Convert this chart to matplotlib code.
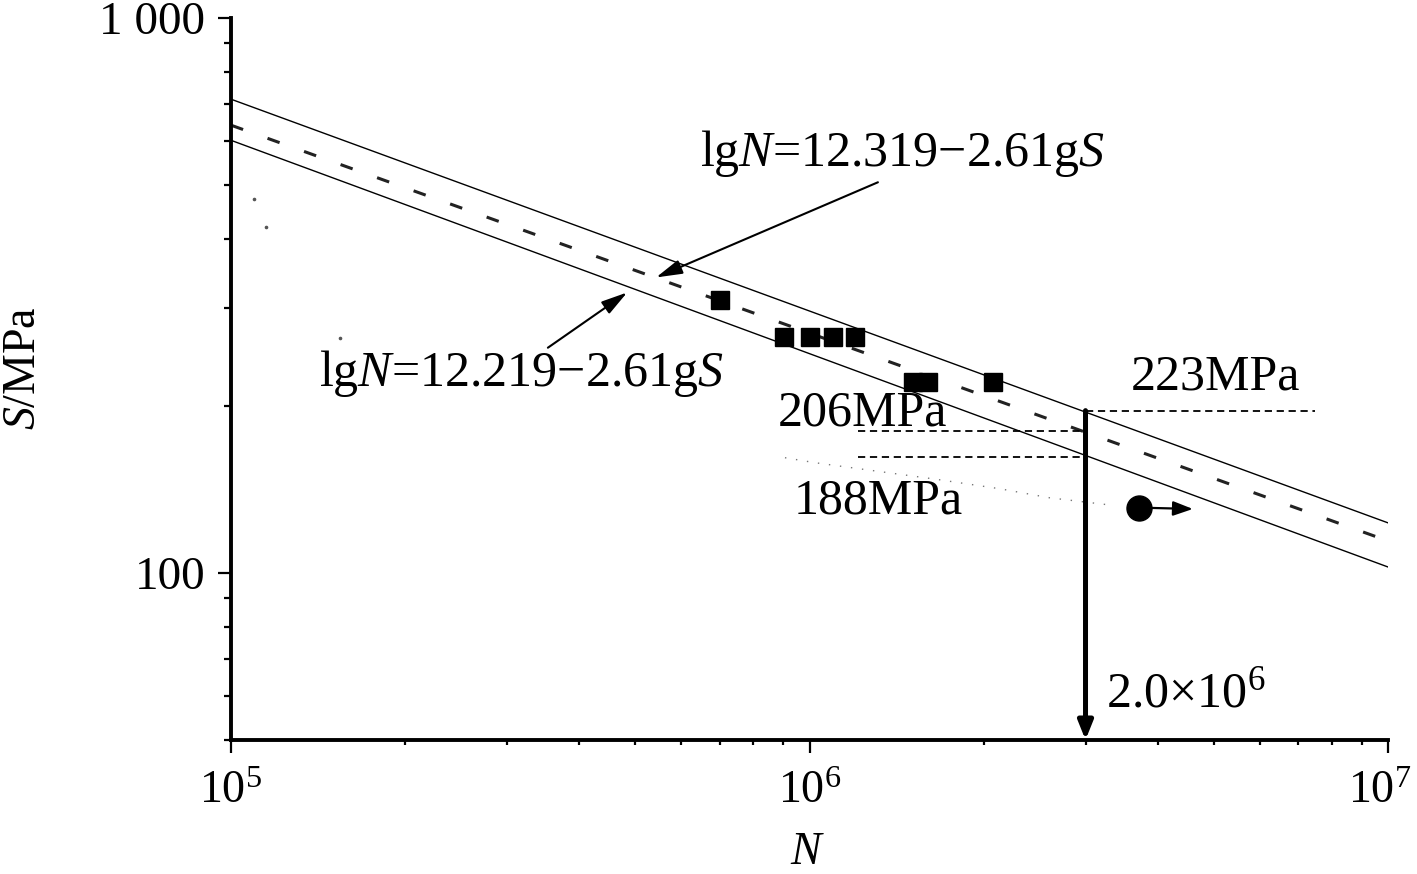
#!/usr/bin/env python3
# -*- coding: utf-8 -*-
"""
S-N curve with fatigue test points (log-log)
"""

import numpy as np
import matplotlib
matplotlib.use('Agg')
import matplotlib.pyplot as plt
from matplotlib import rcParams
from matplotlib.ticker import FixedLocator, FixedFormatter, NullFormatter, LogLocator
from matplotlib.transforms import ScaledTranslation

rcParams['font.family'] = ['Liberation Serif', 'DejaVu Serif']
rcParams['mathtext.fontset'] = 'custom'
rcParams['mathtext.rm'] = 'Liberation Serif'
rcParams['mathtext.it'] = 'Liberation Serif:italic'
rcParams['axes.unicode_minus'] = False

# ---- data ----
line_N = [1e5, 1e7]
upper_S = [714, 123.1]
mean_S = [641, 114.2]
lower_S = [602, 102.5]

test_N = [6.99e5, 9.02e5, 1.00e6, 1.10e6, 1.20e6, 1.51e6, 1.60e6, 2.08e6]
test_S = [310.4, 266.2, 266.2, 266.2, 266.2, 221.2, 221.2, 221.2]

runout_N = [3.71e6]
runout_S = [131.0]
runout_arrow_N = 4.6e6

design_N = 3.0e6
level_223_S = 196.1
level_206_S = 180.4
level_188_S = 162.0
level_left_N = 1.213e6
level_right_N = 7.48e6

speck_N = [1.096e5, 1.15e5, 1.543e5]
speck_S = [471, 421, 264.6]
trail_N = [9.07e5, 1.022e6, 1.648e6, 2.134e6, 2.60e6, 3.28e6]
trail_S = [161.3, 158.0, 147.6, 141.8, 136.6, 132.7]

x_limits = [1e5, 1e7]
y_limits = [50, 1000]
y_ticks = [100, 1000]
y_tick_labels = ['100', '1 000']

W, H = 1417, 874


def px(x, y):
    """pixel position in the figure -> figure fraction"""
    return x / W, 1 - y / H


fig = plt.figure(figsize=(W / 100, H / 100), dpi=100)
ax = fig.add_axes([231 / W, 1 - 740 / H, (1388 - 231) / W, (740 - 18) / H])
ax.set_xscale('log')
ax.set_yscale('log')
ax.set_xlim(x_limits)
ax.set_ylim(y_limits)

# scatter band lines
ax.plot(line_N, upper_S, color='black', lw=1.0, zorder=2)
ax.plot(line_N, lower_S, color='black', lw=1.0, zorder=2)
ax.plot(line_N, mean_S, color='#222222', lw=2.2, linestyle=(0, (4.2, 8.5)), zorder=2)

# faint specks from the scan
ax.plot(speck_N, speck_S, 'o', color='#555555', ms=1.6, zorder=1)
ax.plot(trail_N, trail_S, color='#777777', lw=1.0, linestyle=(0, (1, 7)), zorder=1)

# test points
ax.plot(test_N, test_S, 's', color='black', ms=13.5, zorder=4)
ax.plot(runout_N, runout_S, 'o', color='black', ms=18, zorder=4)
ax.annotate('', xy=(runout_arrow_N, runout_S[0] - 0.6), xytext=(runout_N[0] * 1.04, runout_S[0]),
            arrowprops=dict(arrowstyle='-|>,head_length=0.6,head_width=0.22',
                            color='black', lw=1.6, mutation_scale=20, shrinkA=0, shrinkB=0),
            zorder=4)

# fatigue strength levels
dash = (0, (4, 2.6))
ax.plot([design_N, level_right_N], [level_223_S, level_223_S], color='black', lw=1.3, linestyle=dash)
ax.plot([level_left_N, design_N], [level_206_S, level_206_S], color='black', lw=1.3, linestyle=dash)
ax.plot([level_left_N, design_N], [level_188_S, level_188_S], color='black', lw=1.3, linestyle=dash)

# design life arrow
ax.annotate('', xy=(design_N, y_limits[0]), xytext=(design_N, level_223_S),
            arrowprops=dict(arrowstyle='-|>,head_length=0.55,head_width=0.22',
                            color='black', lw=3.6, mutation_scale=20, shrinkA=0, shrinkB=0),
            zorder=5, annotation_clip=False)

# equation labels with arrows
ax.annotate('', xy=(5.43e5, 340.8), xytext=(1.313e6, 505.8),
            arrowprops=dict(arrowstyle='-|>,head_length=0.8,head_width=0.22',
                            color='black', lw=1.5, mutation_scale=20, shrinkA=0, shrinkB=0))
ax.annotate('', xy=(4.84e5, 320.2), xytext=(3.53e5, 254.6),
            arrowprops=dict(arrowstyle='-|>,head_length=0.8,head_width=0.22',
                            color='black', lw=1.5, mutation_scale=20, shrinkA=0, shrinkB=0))

fs_note = 36
fig.text(*px(902, 166), r'lg$N$=12.319−2.61g$S$', fontsize=fs_note, ha='center', va='baseline')
fig.text(*px(521, 386), r'lg$N$=12.219−2.61g$S$', fontsize=fs_note, ha='center', va='baseline')
fig.text(*px(1215, 390), '223MPa', fontsize=fs_note, ha='center', va='baseline')
fig.text(*px(862, 426), '206MPa', fontsize=fs_note, ha='center', va='baseline')
fig.text(*px(878, 514), '188MPa', fontsize=fs_note, ha='center', va='baseline')
fig.text(*px(1186, 707), r'2.0×10$^{6}$', fontsize=fs_note, ha='center', va='baseline')

# axes styling
for side in ['top', 'right']:
    ax.spines[side].set_visible(False)
for side in ['left', 'bottom']:
    ax.spines[side].set_linewidth(2.8)

ax.xaxis.set_major_locator(LogLocator(base=10, numticks=10))
ax.xaxis.set_minor_formatter(NullFormatter())
ax.yaxis.set_major_locator(FixedLocator(y_ticks))
ax.yaxis.set_major_formatter(FixedFormatter(y_tick_labels))
ax.yaxis.set_minor_locator(LogLocator(base=10, subs=np.arange(2, 10), numticks=20))
ax.yaxis.set_minor_formatter(NullFormatter())

ax.tick_params(axis='x', which='major', length=9, width=1.6, labelsize=33, pad=13, direction='out')
ax.tick_params(axis='x', which='minor', length=3.8, width=1.6, direction='out')
ax.tick_params(axis='y', which='major', length=9.5, width=1.6, labelsize=34, pad=9, direction='out')
ax.tick_params(axis='y', which='minor', length=5, width=1.6, direction='out')

ax.set_xlabel(r'$N$', fontsize=33)
ax.set_ylabel(r'$S$/MPa', fontsize=33)
ax.xaxis.set_label_coords((808 - 231) / 1157, -(832 - 740) / 722)
ax.yaxis.set_label_coords(-(231 - 45) / 1157, (740 - 368) / 722)

# keep the 10^7 label inside the canvas
fig.canvas.draw()
for tick in ax.xaxis.get_major_ticks():
    if np.isclose(tick.get_loc(), x_limits[1]):
        lbl = tick.label1
        lbl.set_transform(lbl.get_transform() + ScaledTranslation(-0.08, 0, fig.dpi_scale_trans))

fig.savefig('out.png', dpi=100)
